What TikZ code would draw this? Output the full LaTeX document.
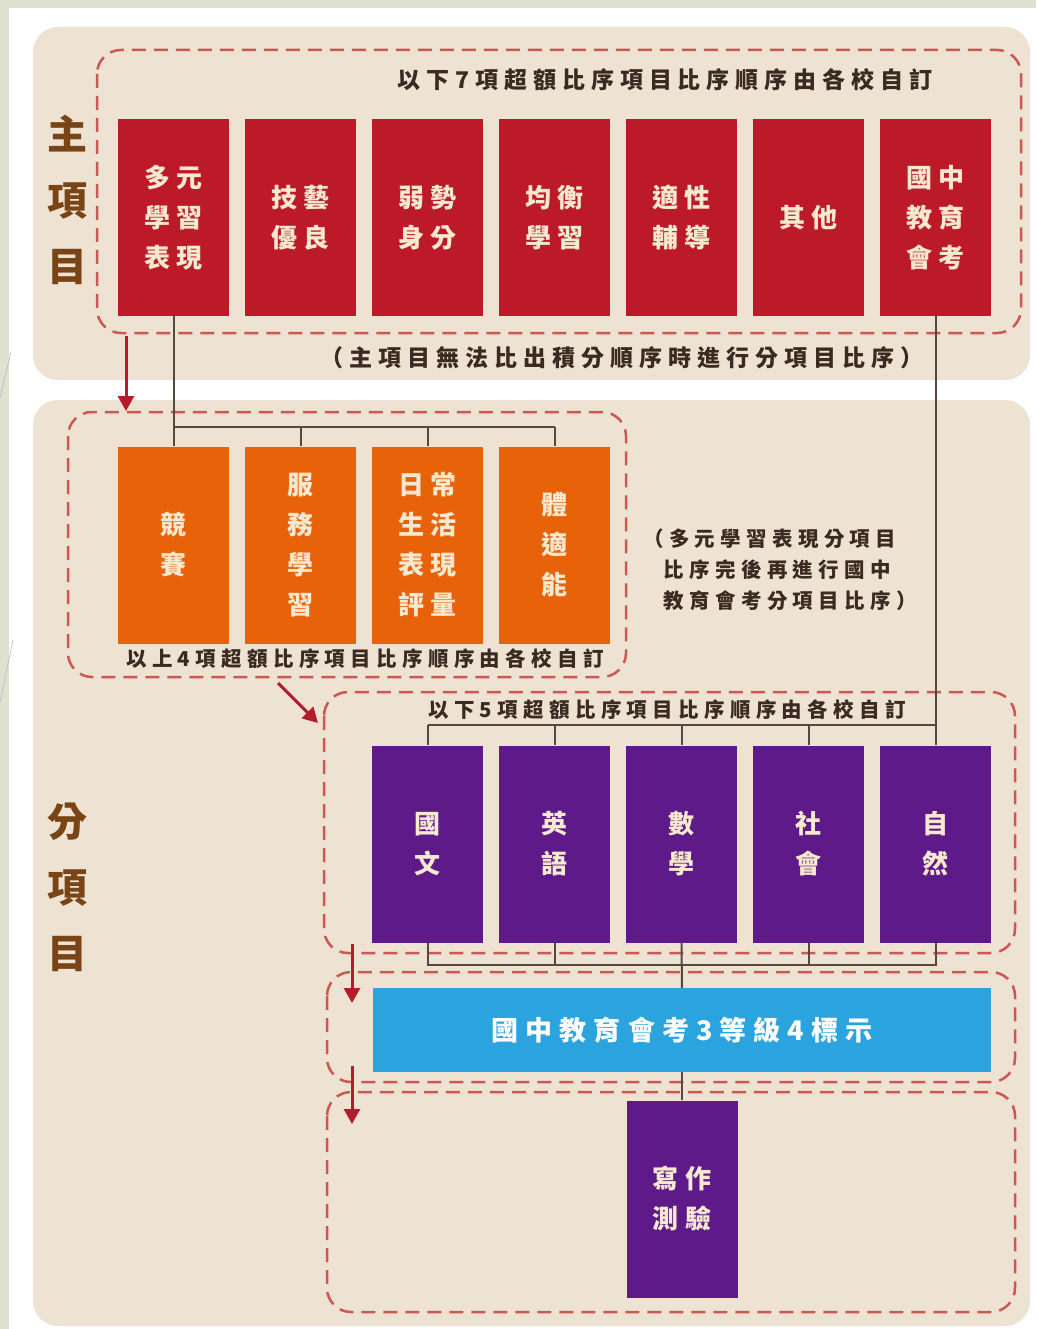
\documentclass[tikz,border=0pt]{standalone}
\usepackage{fontspec}
\newfontfamily\cjk{Noto Sans CJK TC}
\newfontfamily\cjkls[LetterSpace=26]{Noto Sans CJK TC}
\usetikzlibrary{arrows.meta}
\definecolor{frameGreen}{HTML}{E1E1D1}
\definecolor{panelBeige}{HTML}{EEE3D3}
\definecolor{dashRed}{HTML}{CB5852}
\definecolor{mainRed}{HTML}{BD1A29}
\definecolor{subOrange}{HTML}{E8620A}
\definecolor{subPurple}{HTML}{5E1A88}
\definecolor{examBlue}{HTML}{2BA3DE}
\definecolor{boxText}{HTML}{F7E8D0}
\definecolor{noteText}{HTML}{3A2A22}
\definecolor{labelBrown}{HTML}{7A4516}
\definecolor{arrowRed}{HTML}{B41C2B}
\definecolor{connGrey}{HTML}{564840}
\tikzset{
  itembox/.style={minimum width=111pt, minimum height=197pt, inner sep=0pt, text=boxText,
    font=\cjkls\bfseries\fontsize{26pt}{40pt}\selectfont, align=center},
  grp/.style={draw=dashRed, line width=2.5pt, dash pattern=on 14pt off 8pt, rounded corners=24pt},
  conn/.style={draw=connGrey, line width=2pt},
  redarrow/.style={draw=arrowRed, line width=3pt, -{Triangle[length=15pt,width=16pt]}},
  bignote/.style={inner sep=0pt, text=noteText, font=\cjkls\bfseries\fontsize{23pt}{28pt}\selectfont},
  smallnote/.style={inner sep=0pt, text=noteText, font=\cjkls\bfseries\fontsize{20.5pt}{31pt}\selectfont},
  sidelabel/.style={inner sep=0pt, text=labelBrown, align=center, font=\cjk\bfseries\fontsize{40pt}{66pt}\selectfont}
}
\begin{document}
\begin{tikzpicture}[x=1pt,y=-1pt]
\useasboundingbox (0,0) rectangle (1036,1329);
% frame
\fill[white] (0,0) rectangle (1036,1329);
\fill[frameGreen] (0,0) rectangle (1036,8);
\fill[frameGreen] (0,0) rectangle (9,1329);
\draw[gray!55, line width=0.6pt] (0,398) -- (11,352);
\draw[gray!55, line width=0.6pt] (0,702) -- (13,640);
% panels
\fill[panelBeige, rounded corners=25pt] (33,27) rectangle (1030,380);
\fill[panelBeige, rounded corners=25pt] (33,400) rectangle (1030,1326);
% side labels
\node[sidelabel] (lblMain) at (67,200) {主\\項\\目};
\node[sidelabel] (lblSub) at (67,887) {分\\項\\目};
% dashed groups
\draw[grp] (97,50) rectangle (1021,333);
\draw[grp] (68,412) rectangle (626,677);
\draw[grp] (324,692) rectangle (1015,953);
\draw[grp] (327,972) rectangle (1015,1082);
\draw[grp] (327,1092) rectangle (1015,1312);
% notes
\node[bignote] (t7) at (665,80) {以下7項超額比序項目比序順序由各校自訂};
\node[bignote] (tmain) at (622,358) {（主項目無法比出積分順序時進行分項目比序）};
\node[smallnote] (t4) at (365,659) {以上4項超額比序項目比序順序由各校自訂};
\node[smallnote] (t5) at (667,710) {以下5項超額比序項目比序順序由各校自訂};
\node[smallnote, anchor=west, align=left] (tnote) at (643,570) {（多元學習表現分項目\\\phantom{（}比序完後再進行國中\\\phantom{（}教育會考分項目比序）};
% main items
\node[itembox, fill=mainRed] (r1) at (173.5,217.5) {多元\\學習\\表現};
\node[itembox, fill=mainRed] (r2) at (300.5,217.5) {技藝\\優良};
\node[itembox, fill=mainRed] (r3) at (427.5,217.5) {弱勢\\身分};
\node[itembox, fill=mainRed] (r4) at (554.5,217.5) {均衡\\學習};
\node[itembox, fill=mainRed] (r5) at (681.5,217.5) {適性\\輔導};
\node[itembox, fill=mainRed] (r6) at (808.5,217.5) {其他};
\node[itembox, fill=mainRed] (r7) at (935.5,217.5) {國中\\教育\\會考};
% sub items (orange)
\node[itembox, fill=subOrange] (o1) at (173.5,545) {競\\賽};
\node[itembox, fill=subOrange] (o2) at (300.5,545) {服\\務\\學\\習};
\node[itembox, fill=subOrange] (o3) at (427.5,545) {日常\\生活\\表現\\評量};
\node[itembox, fill=subOrange] (o4) at (554.5,545) {體\\適\\能};
% subjects (purple)
\node[itembox, fill=subPurple] (p1) at (427.5,844) {國\\文};
\node[itembox, fill=subPurple] (p2) at (554.5,844) {英\\語};
\node[itembox, fill=subPurple] (p3) at (681.5,844) {數\\學};
\node[itembox, fill=subPurple] (p4) at (808.5,844) {社\\會};
\node[itembox, fill=subPurple] (p5) at (935.5,844) {自\\然};
% exam levels
\node[minimum width=618pt, minimum height=84pt, inner sep=0pt, fill=examBlue, text=white,
  font=\cjkls\bfseries\fontsize{27pt}{30pt}\selectfont] (blue) at (682,1030) {國中教育會考3等級4標示};
% writing test
\node[itembox, fill=subPurple] (w) at (682,1199) {寫作\\測驗};
% connectors
\coordinate (busO) at (0,427);
\coordinate (busP) at (0,725);
\coordinate (busQ) at (0,965);
\draw[conn] (r1.south) -- (o1.north);
\draw[conn] (o1.north |- busO) -- (o4.north |- busO);
\draw[conn] (o2.north |- busO) -- (o2.north);
\draw[conn] (o3.north |- busO) -- (o3.north);
\draw[conn] (o4.north |- busO) -- (o4.north);
\draw[conn] (r7.south) -- (p5.north);
\draw[conn] (p1.north |- busP) -- (p5.north |- busP);
\draw[conn] (p1.north |- busP) -- (p1.north);
\draw[conn] (p2.north |- busP) -- (p2.north);
\draw[conn] (p3.north |- busP) -- (p3.north);
\draw[conn] (p4.north |- busP) -- (p4.north);
\draw[conn] (p1.south) -- (p1.south |- busQ) -- (p5.south |- busQ) -- (p5.south);
\draw[conn] (p2.south) -- (p2.south |- busQ);
\draw[conn] (p4.south) -- (p4.south |- busQ);
\draw[conn] (p3.south) -- (blue.north);
\draw[conn] (blue.south) -- (w.north);
% red arrows
\coordinate (a1s) at (126,336);
\coordinate (a1e) at (126,411);
\coordinate (a2s) at (278,683);
\coordinate (a2e) at (318,723);
\coordinate (a3s) at (352,944);
\coordinate (a3e) at (352,1003);
\coordinate (a4s) at (352,1066);
\coordinate (a4e) at (352,1124);
\draw[redarrow] (a1s) -- (a1e);
\draw[redarrow] (a2s) -- (a2e);
\draw[redarrow] (a3s) -- (a3e);
\draw[redarrow] (a4s) -- (a4e);
\end{tikzpicture}
\end{document}
